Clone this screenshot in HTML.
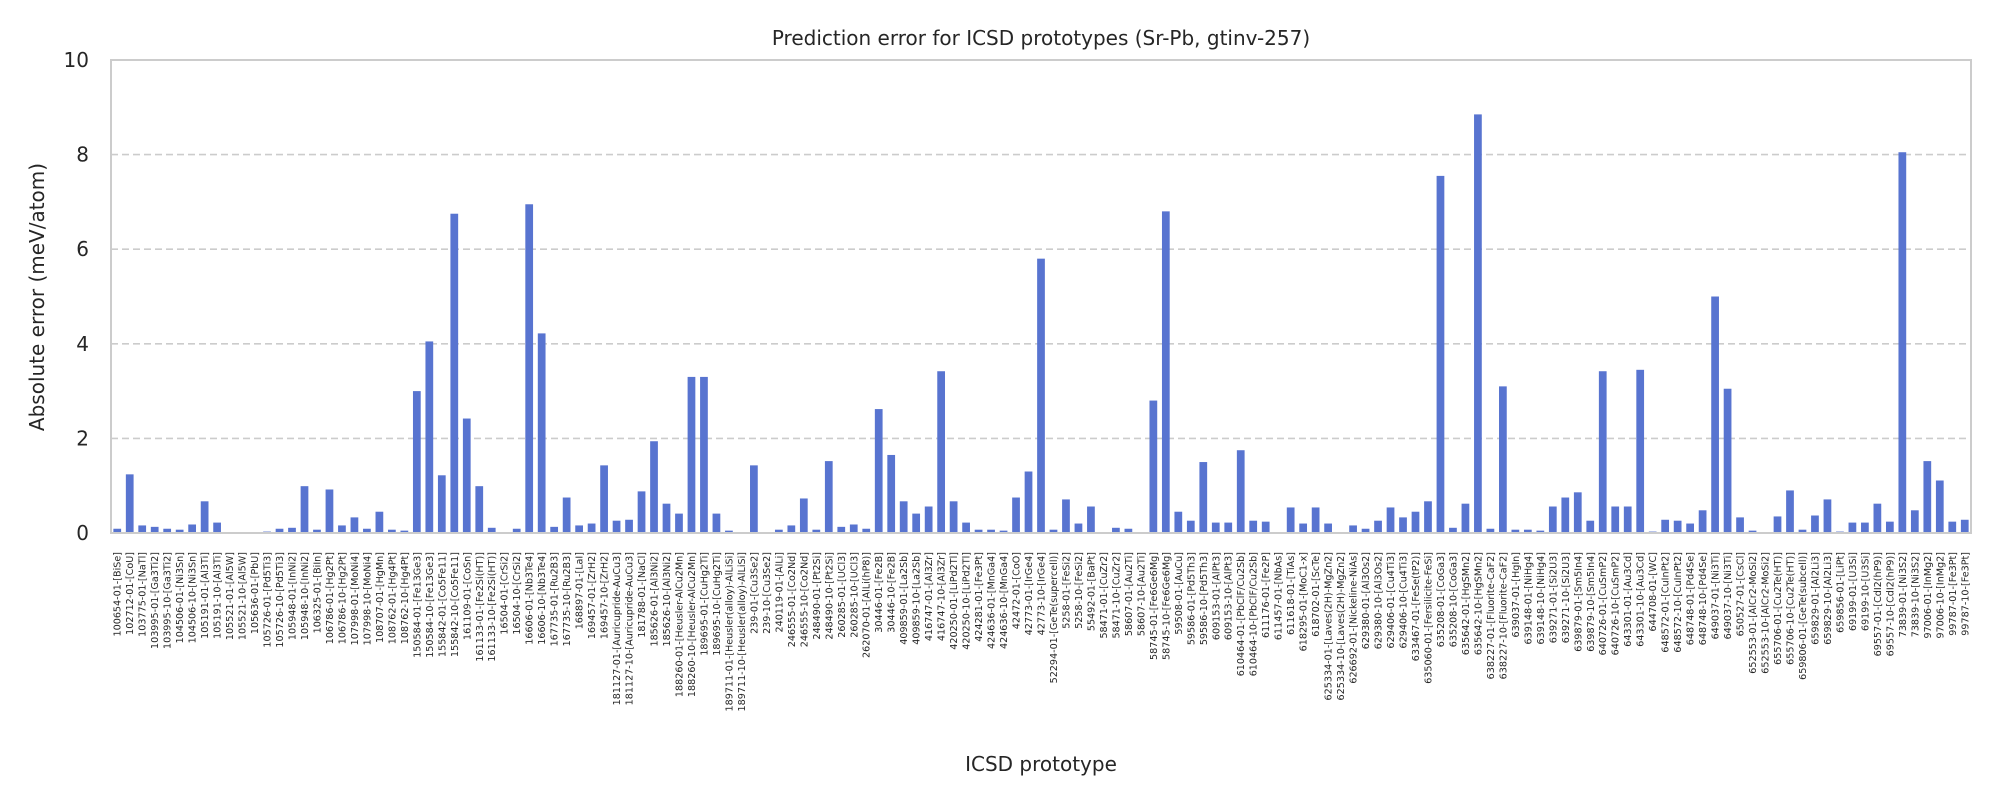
<!DOCTYPE html>
<html><head><meta charset="utf-8"><style>
body{margin:0;background:#fff;}
svg{display:block;font-family:"DejaVu Sans","Liberation Sans",sans-serif;}
</style></head><body>
<svg id="chart" width="2000" height="800" xmlns="http://www.w3.org/2000/svg">
<rect width="2000" height="800" fill="#fff"/>
<text x="1041" y="45" font-size="20" text-anchor="middle" fill="#262626">Prediction error for ICSD prototypes (Sr-Pb, gtinv-257)</text>
<text transform="translate(44,297) rotate(-90)" font-size="20" text-anchor="middle" fill="#262626">Absolute error (meV/atom)</text>
<text x="1041" y="771" font-size="20" text-anchor="middle" fill="#262626">ICSD prototype</text>
<g id="grid"></g><g id="bars"></g><g id="yticks"></g><g id="xticks"></g>
<rect x="111" y="60" width="1860" height="473" fill="none" stroke="#cccccc" stroke-width="2"/>
</svg>
<script>
const categories = ["100654-01-[BiSe]","102712-01-[CoU]","103775-01-[NaTl]","103995-01-[Ga3Ti2]","103995-10-[Ga3Ti2]","104506-01-[Ni3Sn]","104506-10-[Ni3Sn]","105191-01-[Al3Ti]","105191-10-[Al3Ti]","105521-01-[Al5W]","105521-10-[Al5W]","105636-01-[PbU]","105726-01-[Pd5Ti3]","105726-10-[Pd5Ti3]","105948-01-[InNi2]","105948-10-[InNi2]","106325-01-[BiIn]","106786-01-[Hg2Pt]","106786-10-[Hg2Pt]","107998-01-[MoNi4]","107998-10-[MoNi4]","108707-01-[HgMn]","108762-01-[Hg4Pt]","108762-10-[Hg4Pt]","150584-01-[Fe13Ge3]","150584-10-[Fe13Ge3]","155842-01-[Co5Fe11]","155842-10-[Co5Fe11]","161109-01-[CoSn]","161133-01-[Fe2Si(HT)]","161133-10-[Fe2Si(HT)]","16504-01-[CrSi2]","16504-10-[CrSi2]","16606-01-[Nb3Te4]","16606-10-[Nb3Te4]","167735-01-[Ru2B3]","167735-10-[Ru2B3]","168897-01-[LaI]","169457-01-[ZrH2]","169457-10-[ZrH2]","181127-01-[Auricupride-AuCu3]","181127-10-[Auricupride-AuCu3]","181788-01-[NaCl]","185626-01-[Al3Ni2]","185626-10-[Al3Ni2]","188260-01-[Heusler-AlCu2Mn]","188260-10-[Heusler-AlCu2Mn]","189695-01-[CuHg2Ti]","189695-10-[CuHg2Ti]","189711-01-[Heusler(alloy)-AlLiSi]","189711-10-[Heusler(alloy)-AlLiSi]","239-01-[Cu3Se2]","239-10-[Cu3Se2]","240119-01-[AlLi]","246555-01-[Co2Nd]","246555-10-[Co2Nd]","248490-01-[Pt2Si]","248490-10-[Pt2Si]","260285-01-[UCl3]","260285-10-[UCl3]","262070-01-[AlLi(hP8)]","30446-01-[Fe2B]","30446-10-[Fe2B]","409859-01-[La2Sb]","409859-10-[La2Sb]","416747-01-[Al3Zr]","416747-10-[Al3Zr]","420250-01-[LiPd2Tl]","420250-10-[LiPd2Tl]","424281-01-[Fe3Pt]","424636-01-[MnGa4]","424636-10-[MnGa4]","42472-01-[CoO]","42773-01-[IrGe4]","42773-10-[IrGe4]","52294-01-[GeTe(supercell)]","5258-01-[FeSi2]","5258-10-[FeSi2]","55492-01-[BaPt]","58471-01-[CuZr2]","58471-10-[CuZr2]","58607-01-[Au2Ti]","58607-10-[Au2Ti]","58745-01-[Fe6Ge6Mg]","58745-10-[Fe6Ge6Mg]","59508-01-[AuCu]","59586-01-[Pd5Th3]","59586-10-[Pd5Th3]","609153-01-[AlPt3]","609153-10-[AlPt3]","610464-01-[PbClF/Cu2Sb]","610464-10-[PbClF/Cu2Sb]","611176-01-[Fe2P]","611457-01-[NbAs]","611618-01-[TiAs]","618295-01-[MoC1-x]","618702-01-[ScTe]","625334-01-[Laves(2H)-MgZn2]","625334-10-[Laves(2H)-MgZn2]","626692-01-[Nickeline-NiAs]","629380-01-[Al3Os2]","629380-10-[Al3Os2]","629406-01-[Cu4Ti3]","629406-10-[Cu4Ti3]","633467-01-[FeSe(tP2)]","635060-01-[Fersilicite-FeSi]","635208-01-[CoGa3]","635208-10-[CoGa3]","635642-01-[HgSMn2]","635642-10-[HgSMn2]","638227-01-[Fluorite-CaF2]","638227-10-[Fluorite-CaF2]","639037-01-[HgIn]","639148-01-[NiHg4]","639148-10-[NiHg4]","639271-01-[Si2U3]","639271-10-[Si2U3]","639879-01-[Sm5In4]","639879-10-[Sm5In4]","640726-01-[CuSmP2]","640726-10-[CuSmP2]","643301-01-[Au3Cd]","643301-10-[Au3Cd]","644708-01-[WC]","648572-01-[CuInPt2]","648572-10-[CuInPt2]","648748-01-[Pd4Se]","648748-10-[Pd4Se]","649037-01-[Ni3Ti]","649037-10-[Ni3Ti]","650527-01-[CsCl]","652553-01-[AlCr2-MoSi2]","652553-10-[AlCr2-MoSi2]","655706-01-[Cu2Te(HT)]","655706-10-[Cu2Te(HT)]","659806-01-[GeTe(subcell)]","659829-01-[Al2Li3]","659829-10-[Al2Li3]","659856-01-[LiPt]","69199-01-[U3Si]","69199-10-[U3Si]","69557-01-[CdI2(hP9)]","69557-10-[CdI2(hP9)]","73839-01-[Ni3S2]","73839-10-[Ni3S2]","97006-01-[InMg2]","97006-10-[InMg2]","99787-01-[Fe3Pt]","99787-10-[Fe3Pt]"];
const errors = [0.09,1.24,0.16,0.13,0.09,0.07,0.18,0.67,0.22,0,0,0,0.03,0.09,0.11,0.99,0.07,0.92,0.16,0.33,0.09,0.45,0.07,0.05,3.0,4.05,1.22,6.75,2.42,0.99,0.11,0,0.09,6.95,4.22,0.13,0.75,0.16,0.2,1.43,0.26,0.28,0.88,1.94,0.62,0.41,3.3,3.3,0.41,0.05,0,1.43,0,0.07,0.16,0.73,0.07,1.52,0.13,0.18,0.09,2.62,1.65,0.67,0.41,0.56,3.42,0.67,0.22,0.07,0.07,0.05,0.75,1.3,5.8,0.07,0.71,0.2,0.56,0,0.11,0.09,0,2.8,6.8,0.45,0.26,1.5,0.22,0.22,1.75,0.26,0.24,0,0.54,0.2,0.54,0.2,0,0.16,0.09,0.26,0.54,0.33,0.45,0.67,7.55,0.11,0.62,8.85,0.09,3.1,0.07,0.07,0.05,0.56,0.75,0.86,0.26,3.42,0.56,0.56,3.45,0.03,0.28,0.26,0.2,0.48,5.0,3.05,0.33,0.05,0,0.35,0.9,0.07,0.37,0.71,0.03,0.22,0.22,0.62,0.24,8.05,0.48,1.52,1.11,0.24,0.28];
const yTicks = [0,2,4,6,8,10];

const NS = "http://www.w3.org/2000/svg";
const L = 111, R = 1971, T = 60, B = 533, yMax = 10;
const step = (R - L) / categories.length;
const xPos = i => L + step * (i + 0.5);
const yPos = v => B - (v / yMax) * (B - T);
function mk(tag, attrs, parent) {
  const e = document.createElementNS(NS, tag);
  for (const k in attrs) e.setAttribute(k, attrs[k]);
  parent.appendChild(e);
  return e;
}
const grid = document.getElementById('grid'), bars = document.getElementById('bars'),
      yt = document.getElementById('yticks'), xt = document.getElementById('xticks');
yTicks.forEach(v => {
  if (v > 0 && v < yMax) {
    const g = mk('line', {x1: L, x2: R, y1: yPos(v), y2: yPos(v), stroke: '#cccccc', 'stroke-width': 1.6, 'stroke-dasharray': '7,4'}, grid);
    
    
  }
  const t = mk('text', {x: 89, y: yPos(v) + 7, 'font-size': 20, 'text-anchor': 'end', fill: '#262626'}, yt);
  t.textContent = v;
  
  
});
categories.forEach((c, i) => {
  const v = errors[i];
  const bw = step * 0.62;
  const r = mk('rect', {x: xPos(i) - bw / 2, y: yPos(v), width: bw, height: B - yPos(v), fill: '#5874d0'}, bars);
  
  
  const t = mk('text', {transform: 'translate(' + (xPos(i) + 3.5) + ',552) rotate(-90)', 'font-size': 9.6, 'text-anchor': 'end', fill: '#262626'}, xt);
  t.textContent = c;
  
  
});
</script>
</body></html>
